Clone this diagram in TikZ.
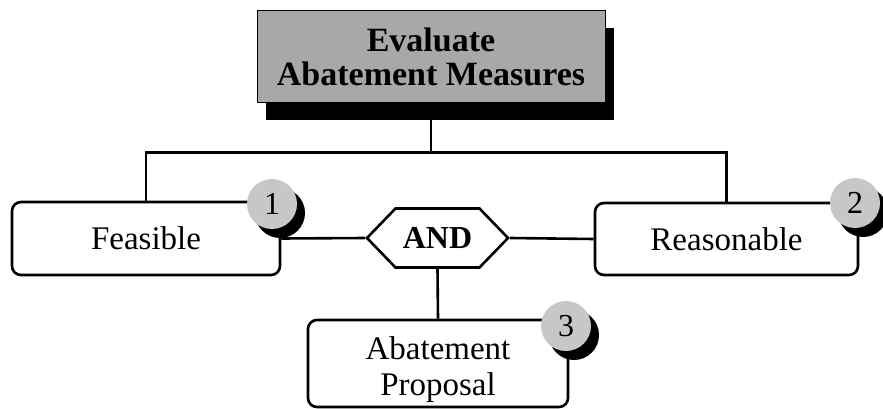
\documentclass[tikz,border=0pt]{standalone}
\usepackage{fontspec}
\setmainfont{Liberation Serif}
\usetikzlibrary{positioning,shapes.symbols,shadows}
\definecolor{titlegray}{gray}{0.66}
\definecolor{badgegray}{gray}{0.78}
\tikzset{
%Define style for the goal box on top
title box/.style={rectangle, draw=black, line width=1pt, fill=titlegray,
  minimum width=348pt, minimum height=92pt, align=center,
  font=\fontsize{34}{36}\selectfont\bfseries,
  drop shadow={shadow xshift=9pt, shadow yshift=-17pt, fill=black, opacity=1}},
%Define style for the rounded criteria boxes
goal box/.style={rectangle, rounded corners=9pt, draw, line width=2.6pt,
  fill=white, align=center, font=\fontsize{33}{38}\selectfont},
%Define style for the AND gate
and gate/.style={signal, signal to=west and east, signal pointer angle=92,
  draw, line width=2.6pt, fill=white, minimum width=141pt, minimum height=59pt,
  inner sep=0pt, font=\fontsize{32}{36}\selectfont\bfseries},
%Define style for the numbered badges
badge/.style={circle, fill=badgegray, minimum size=50pt, inner sep=0pt,
  font=\fontsize{32}{36}\selectfont,
  drop shadow={shadow xshift=8pt, shadow yshift=-9pt, fill=black, opacity=1}},
important line/.style={line width=2.6pt},
}

\begin{document}
\begin{tikzpicture}[x=1pt,y=-1pt]
    \useasboundingbox (0,0) rectangle (883,409);

    % Goal
    \node[title box] (title) at (431,57)
      {\raisebox{-4pt}[\height][\depth]{\begin{tabular}{@{}c@{}}Evaluate\\[-2pt]Abatement Measures\end{tabular}}};

    % Criteria and result
    \node[goal box, minimum width=268pt, minimum height=73pt] (feasible) at (146,238.5) {Feasible};
    \node[goal box, minimum width=263pt, minimum height=72pt] (reasonable) at (726.5,239) {Reasonable};
    \node[and gate] (and) at (437.5,238) {AND};
    \node[goal box, minimum width=260pt, minimum height=87pt] (proposal) at (438,363.5)
      {\raisebox{-6pt}[\height][\depth]{\begin{tabular}{@{}c@{}}Abatement\\[-2pt]Proposal\end{tabular}}};

    % Connections
    \path (title.south) ++(0,49) coordinate (bar);
    \draw[important line] (title.south) -- (bar);
    \draw[important line] (feasible.north) |- (bar) -| (reasonable.north);
    \draw[important line] (feasible.east) -- (and.west);
    \draw[important line] (and.east) -- (reasonable.west);
    \draw[important line] (and.south) -- (proposal.north);

    % Numbered badges
    \node[badge] (one) at (272,204) {1};
    \node[badge] (two) at (855,203) {2};
    \node[badge] (three) at (566,326) {3};
\end{tikzpicture}
\end{document}
